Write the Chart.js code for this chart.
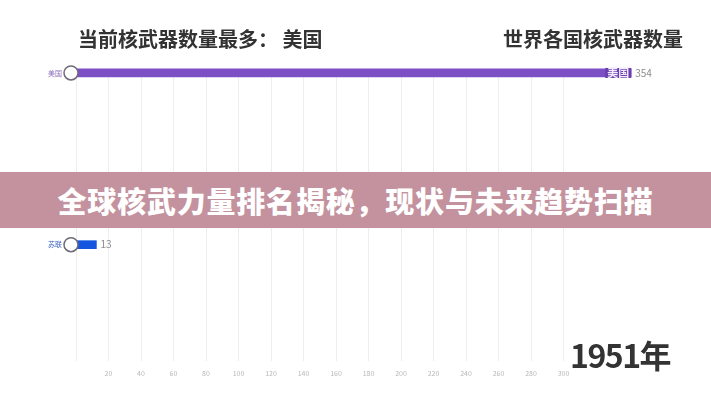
<!DOCTYPE html>
<html>
<head>
<meta charset="utf-8">
<script src="https://cdn.jsdelivr.net/npm/chart.js@4"></script>
<style>
  html, body { margin: 0; padding: 0; background: #fff; }
  .wrap { position: relative; width: 711px; height: 400px; overflow: hidden; font-family: "Noto Sans CJK SC", "Noto Sans", sans-serif; }
  canvas { position: absolute; left: 0; top: 0; }
  .title { position: absolute; top: 27px; font-size: 20px; font-weight: bold; color: #333; line-height: 24px; white-space: nowrap; }
  .banner { position: absolute; left: 0; top: 172px; width: 711px; height: 56px; background: #c3929e; color: #fff;
            font-size: 29px; font-weight: 900; line-height: 56px; text-align: center; letter-spacing: 0.8px; }
  .year { position: absolute; left: 570px; top: 334px; font-size: 32px; font-weight: bold; color: #333; line-height: 40px; letter-spacing: -1.5px; }
</style>
</head>
<body>
<div class="wrap">
  <canvas id="raceChart" width="711" height="400"></canvas>
  <div class="title" style="left:78px;">当前核武器数量最多：&nbsp;美国</div>
  <div class="title" style="left:503px;">世界各国核武器数量</div>
  <div class="banner">全球核武力量排名揭秘，现状与未来趋势扫描</div>
  <div class="year">1951年</div>
</div>
<script>
const countries = ['美国', '苏联'];
const warheads = [354, 13];
const ranks = [1, 2];
const barColors = ['#7d4fc5', '#1456e0'];
const labelColors = ['#8a6bbd', '#3a62c0'];
const tickMax = 300;

const ctx = document.getElementById('raceChart').getContext('2d');

const barDecor = {
    id: 'barDecor',
    afterDatasetsDraw(chart) {
        const c = chart.ctx;
        const meta = chart.getDatasetMeta(0);
        meta.data.forEach((bar, i) => {
            const cx = bar.base - 5;
            // circle at the start of the bar
            c.save();
            c.beginPath();
            c.arc(cx, bar.y, 7, 0, Math.PI * 2);
            c.fillStyle = '#fff';
            c.fill();
            c.lineWidth = 1.5;
            c.strokeStyle = '#6f6a78';
            c.stroke();

            // name left of the circle
            c.font = "7px 'Noto Sans CJK SC'";
            c.fillStyle = labelColors[i];
            c.textAlign = 'right';
            c.textBaseline = 'middle';
            c.fillText(countries[i], cx - 9, bar.y);

            // name inside the bar end
            if (bar.x - bar.base > 60) {
                c.font = "bold 11px 'Noto Sans CJK SC'";
                const w = c.measureText(countries[i]).width;
                c.fillStyle = '#6a3fae';
                c.fillRect(bar.x - w - 4, bar.y - 5, w + 4, 10);
                c.fillStyle = '#f3ecff';
                c.textAlign = 'right';
                c.fillText(countries[i], bar.x - 2, bar.y);
            }

            // value after the bar
            c.font = "10px 'Noto Sans CJK SC'";
            c.fillStyle = '#8c8c8c';
            c.textAlign = 'left';
            c.fillText(warheads[i], bar.x + 4, bar.y);
            c.restore();
        });
    }
};

new Chart(ctx, {
    type: 'bar',
    data: {
        datasets: [{
            data: warheads.map((v, i) => ({ x: v, y: ranks[i] })),
            backgroundColor: barColors,
            borderWidth: 0,
            barThickness: 8,
            xAxisID: 'xb',
            clip: false
        }]
    },
    options: {
        indexAxis: 'y',
        responsive: false,
        animation: false,
        layout: { padding: { left: 76, right: 50, top: 69, bottom: 13 } },
        plugins: { legend: { display: false }, tooltip: { enabled: false } },
        scales: {
            x: {
                type: 'linear',
                position: 'bottom',
                min: 0,
                max: 360,
                border: { display: false },
                grid: {
                    color: (c) => (c.tick && c.tick.value > tickMax) ? 'rgba(0,0,0,0)' : '#eeeeee',
                    drawTicks: false
                },
                ticks: {
                    stepSize: 20,
                    padding: 9,
                    color: '#b8b8b8',
                    font: { family: "'Noto Sans CJK SC'", size: 7 },
                    callback: (v) => (v === 0 || v > tickMax) ? '' : v
                }
            },
            xb: {
                type: 'linear',
                display: false,
                min: 0,
                max: 373
            },
            y: {
                type: 'linear',
                display: false,
                offset: false,
                reverse: true,
                min: 0.977,
                max: 2.675
            }
        }
    },
    plugins: [barDecor]
});
</script>
</body>
</html>
